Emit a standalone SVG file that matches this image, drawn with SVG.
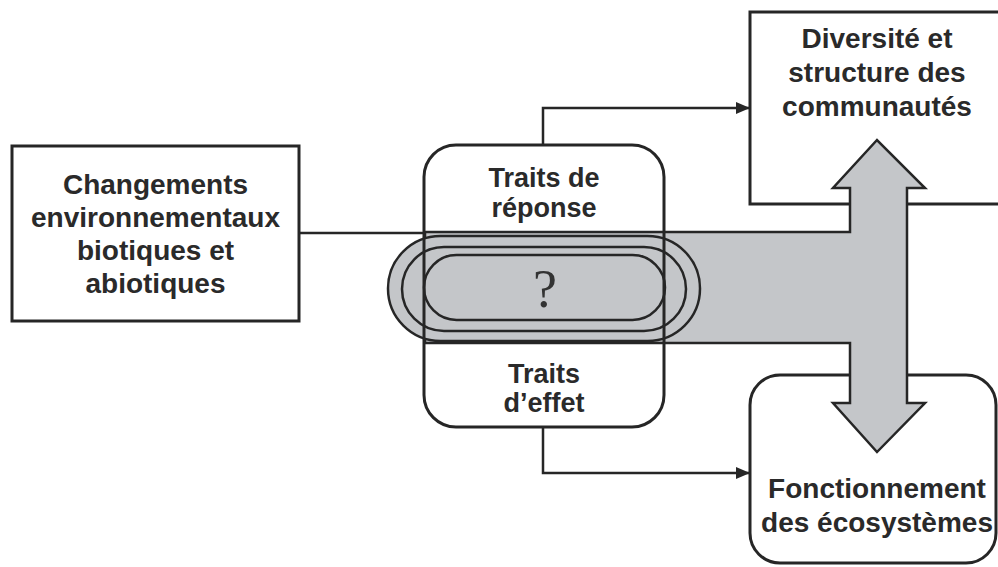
<svg xmlns="http://www.w3.org/2000/svg" width="998" height="567" viewBox="0 0 998 567">
  <style>
    .box { fill: #ffffff; stroke: #262626; stroke-width: 3; }
    .outline { fill: none; stroke: #262626; stroke-width: 3; }
    .lbl { font-family: "Liberation Sans", Arial, sans-serif; font-weight: bold; font-size: 28px; fill: #2a2a2a; text-anchor: middle; }
    .lbl-c { font-size: 27px; }
    .conn { fill: none; stroke: #262626; stroke-width: 2.5; }
    .gray { fill: #c4c6c9; stroke: #262626; stroke-width: 2.5; }
    .ring { fill: #c4c6c9; stroke: #262626; stroke-width: 2.5; }
  </style>
  <defs>
    <marker id="arrow" viewBox="0 0 14 12" refX="14" refY="6" markerWidth="14" markerHeight="12" markerUnits="userSpaceOnUse" orient="auto">
      <path d="M0,0 L14,6 L0,12 Z" fill="#262626"/>
    </marker>
  </defs>

  <rect width="998" height="567" fill="#ffffff"/>

  <g id="changements">
    <rect class="box" x="12" y="146" width="287" height="175"/>
    <text class="lbl" x="155.5" y="194">Changements</text>
    <text class="lbl" x="155.5" y="227">environnementaux</text>
    <text class="lbl" x="155.5" y="260">biotiques et</text>
    <text class="lbl" x="155.5" y="293">abiotiques</text>
  </g>

  <g id="diversite">
    <rect class="box" x="750" y="12" width="252" height="192"/>
    <text class="lbl" x="877" y="48">Diversité et</text>
    <text class="lbl" x="877" y="82">structure des</text>
    <text class="lbl" x="877" y="116">communautés</text>
  </g>

  <g id="fonctionnement">
    <rect class="box" x="750" y="375" width="246" height="188" rx="30" ry="30"/>
    <text class="lbl" x="877" y="498">Fonctionnement</text>
    <text class="lbl" x="877" y="532">des écosystèmes</text>
  </g>

  <g id="traits">
    <rect x="424" y="145" width="240" height="282" rx="32" ry="32" fill="#ffffff"/>
    <text class="lbl lbl-c" x="544" y="187">Traits de</text>
    <text class="lbl lbl-c" x="544" y="217">réponse</text>
    <text class="lbl lbl-c" x="544" y="383">Traits</text>
    <text class="lbl lbl-c" x="544" y="412">d’effet</text>
  </g>

  <g id="connectors">
    <line class="conn" x1="299" y1="233" x2="425" y2="233"/>
    <path class="conn" d="M543,145 V108 H750" marker-end="url(#arrow)"/>
    <path class="conn" d="M543,427 V473 H750" marker-end="url(#arrow)"/>
    <path id="flux" class="gray" d="M425,232 H850 V188 H833 L877,140 L925,188 H907 V403 H925 L877,452 L833,403 H850 V343 H425 Z"/>
  </g>

  <g id="interaction">
    <rect class="ring" x="388" y="236" width="312" height="105" rx="52.5" ry="52.5"/>
    <rect class="ring" x="402" y="247" width="284" height="84" rx="42" ry="42"/>
    <rect class="ring" x="424" y="255" width="241" height="65" rx="32.5" ry="32.5" stroke-width="4"/>
    <text x="545" y="307" font-family="'Liberation Serif', 'Times New Roman', serif" font-size="54" fill="#333333" text-anchor="middle">?</text>
  </g>

  <g id="traits-outline">
    <rect class="outline" x="424" y="145" width="240" height="282" rx="32" ry="32"/>
  </g>
</svg>
